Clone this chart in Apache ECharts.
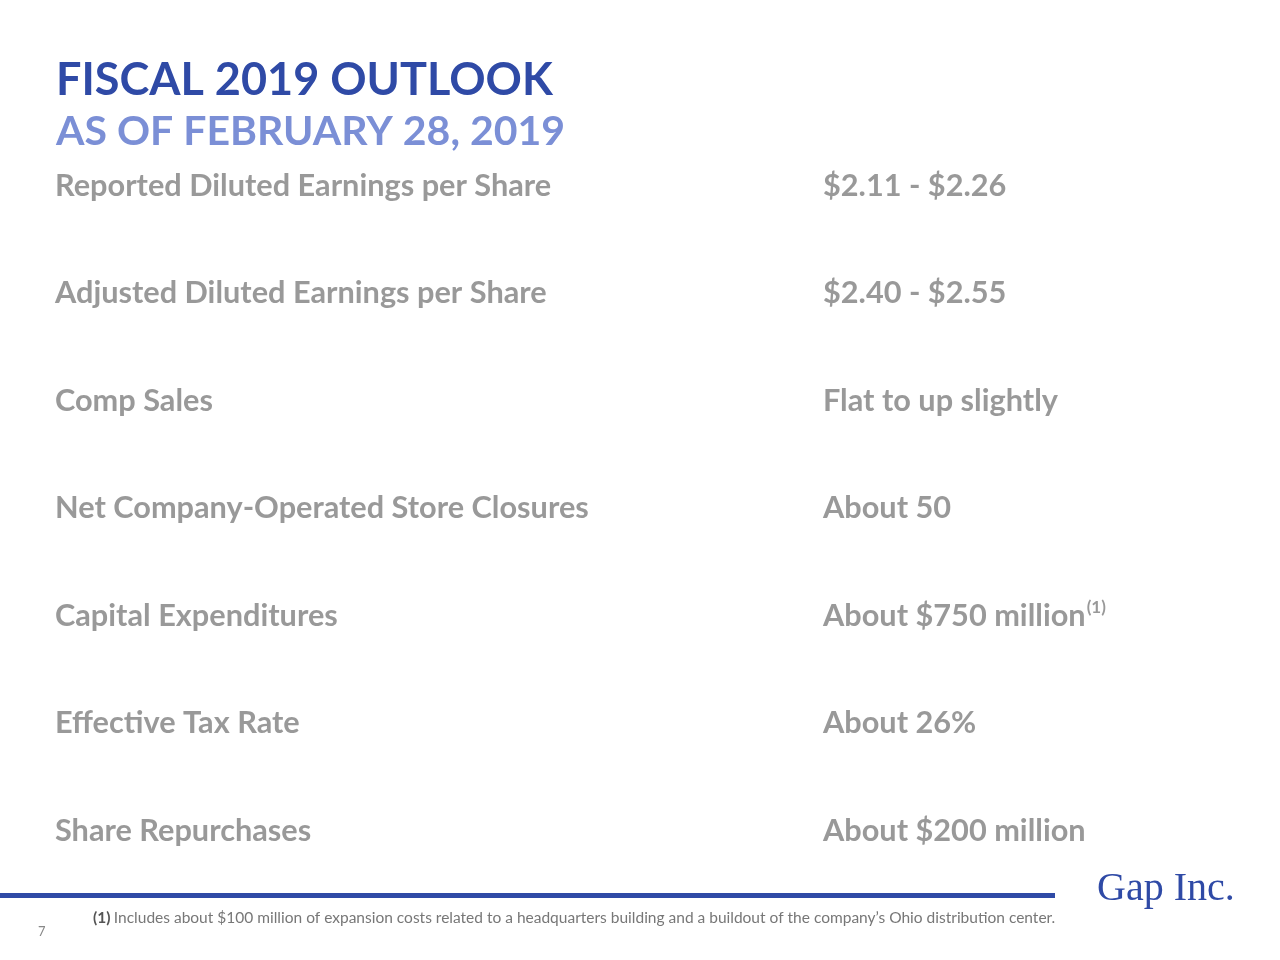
<!DOCTYPE html>
<html>
<head>
<meta charset="utf-8">
<script src="https://cdn.jsdelivr.net/npm/echarts@6/dist/echarts.min.js"></script>
<style>html,body{margin:0;padding:0;background:#fff}#c{width:1280px;height:960px}</style>
</head>
<body>
<div id="c"></div>
<script>
const titleText = 'FISCAL 2019 OUTLOOK';
const subtitleText = 'AS OF FEBRUARY 28, 2019';
const metrics = ['Reported Diluted Earnings per Share','Adjusted Diluted Earnings per Share','Comp Sales','Net Company-Operated Store Closures','Capital Expenditures','Effective Tax Rate','Share Repurchases'];
const outlooks = ['$2.11 - $2.26','$2.40 - $2.55','Flat to up slightly','About 50','About $750 million','About 26%','About $200 million'];
const footnoteMarks = ['','','','','(1)','',''];
const footnoteText = 'Includes about $100 million of expansion costs related to a headquarters building and a buildout of the company\u2019s Ohio distribution center.';
const pageNumber = '7';
const logoText = 'Gap Inc.';

const FONT = 'Lato';
const GREY = '#808080';
const chart = echarts.init(document.getElementById('c'));
chart.setOption({
  backgroundColor: '#ffffff',
  animation: false,
  title: [
    {text: titleText, left: 56, top: 58, padding: 0, textStyle: {fontFamily: FONT, fontWeight: 'bold', fontSize: 45, color: '#2f4aa6'}},
    {text: subtitleText, left: 56, top: 111, padding: 0, textStyle: {fontFamily: FONT, fontWeight: 'bold', fontSize: 41, color: '#7b8fd6'}}
  ],
  grid: {left: 55, right: 457, top: 186, bottom: 129},
  xAxis: {type: 'value', min: 0, max: 1, show: false},
  yAxis: {type: 'category', data: metrics, inverse: true, boundaryGap: false, show: false},
  series: [
    {
      type: 'scatter', symbolSize: 0, silent: true,
      data: metrics.map((m, i) => [0, m]),
      label: {show: true, position: 'right', distance: 0, formatter: p => p.value[1],
        fontFamily: FONT, fontWeight: 'bold', fontSize: 30.7, color: GREY}
    },
    {
      type: 'scatter', symbolSize: 0, silent: true,
      data: outlooks.map((o, i) => ({value: [1, metrics[i]], name: o})),
      label: {show: true, position: 'right', distance: 0,
        formatter: p => '{a|' + p.name + '}' + (footnoteMarks[p.dataIndex] ? '{s|' + footnoteMarks[p.dataIndex] + '}' : ''),
        rich: {
          a: {fontFamily: FONT, fontWeight: 'bold', fontSize: 30.7, color: GREY},
          s: {fontFamily: FONT, fontWeight: 'bold', fontSize: 17, color: GREY, verticalAlign: 'top', padding: [0, 0, 16, 1]}
        }}
    }
  ],
  graphic: [
    {type: 'rect', left: 0, top: 893, shape: {width: 1055, height: 5}, style: {fill: '#2f4aa6'}},
    {type: 'text', left: 93, top: 910, style: {rich: {
        b: {fontFamily: FONT, fontWeight: 'bold', fontSize: 15.5, fill: '#555'},
        n: {fontFamily: FONT, fontSize: 15.5, fill: '#777'}},
      text: '{b|(1)} {n|' + footnoteText + '}'}},
    {type: 'text', left: 38, top: 925, style: {text: pageNumber, font: '13px ' + FONT, fill: '#888'}},
    {type: 'text', left: 1097, top: 869, style: {text: logoText, font: '40px "Liberation Serif"', fill: '#2f4aa6'}}
  ]
});
</script>
</body>
</html>
